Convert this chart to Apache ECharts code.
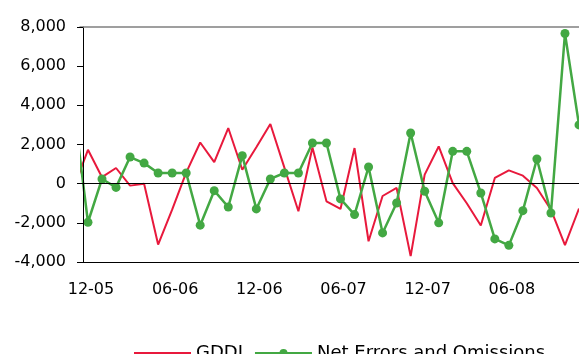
<!DOCTYPE html>
<html>
<head>
<meta charset="utf-8">
<script src="https://cdn.jsdelivr.net/npm/echarts@6/dist/echarts.min.js"></script>
<style>html,body{margin:0;padding:0;background:#fff;}#c{width:579px;height:354px;}</style>
</head>
<body>
<div id="c"></div>
<script>
// Month labels (index 0 = 11-05, partially off the left edge of the plot)
var months = ["11-05","12-05","01-06","02-06","03-06","04-06","05-06","06-06","07-06","08-06","09-06","10-06","11-06",
  "12-06","01-07","02-07","03-07","04-07","05-07","06-07","07-07","08-07","09-07","10-07","11-07",
  "12-07","01-08","02-08","03-08","04-08","05-08","06-08","07-08","08-08","09-08","10-08","11-08"];
var tickLabels = ["12-05","06-06","12-06","06-07","12-07","06-08"];
var gddi = [-200,1730,330,800,-100,0,-3110,-1330,560,2100,1100,2840,710,1860,3050,820,-1410,1850,-900,-1290,
  1820,-2940,-630,-220,-3700,460,1900,30,-1000,-2140,290,680,410,-220,-1330,-3140,-1270];
var neo = [3800,-1970,240,-190,1360,1050,545,545,545,-2120,-357,-1190,1430,-1290,240,545,545,2075,2075,-780,
  -1580,850,-2515,-985,2585,-390,-2000,1650,1650,-475,-2820,-3150,-1380,1260,-1500,7670,3000];

function pairs(arr){ return arr.map(function(v,i){ return [i,v]; }); }
var labelIdx = tickLabels.map(function(t){ return months.indexOf(t); });
var FONT = 'DejaVu Sans';

var chart = echarts.init(document.getElementById('c'), null, {renderer:'canvas'});
chart.setOption({
  animation:false,
  backgroundColor:'#fff',
  grid:{left:80, top:27, width:500.8, height:235, containLabel:false},
  legend:{
    left:128, top:339, itemWidth:57, itemHeight:10, itemGap:11,
    textStyle:{fontFamily:FONT, fontSize:18, color:'#000'},
    data:[{name:'GDDI', itemStyle:{color:'rgba(0,0,0,0)', borderWidth:0, opacity:0}},
          'Net Errors and Omissions']
  },
  graphic:[{type:'rect', shape:{x:60, y:20, width:20, height:250}, style:{fill:'#fff'}, z:5, silent:true}],
  xAxis:[{
    type:'value', min:0.432, max:36, z:10,
    axisLine:{show:true, onZero:false, lineStyle:{color:'#000', width:1}},
    axisTick:{show:false},
    splitLine:{show:false},
    axisLabel:{customValues:labelIdx, margin:20, padding:[0,0,0,6],
      fontFamily:FONT, fontSize:16, color:'#000',
      formatter:function(v){ return months[Math.round(v)] || ''; }}
  },{
    type:'value', min:0.432, max:36, position:'top', z:10,
    axisLine:{show:true, onZero:false, lineStyle:{color:'#808080', width:1.5}},
    axisTick:{show:false}, axisLabel:{show:false}, splitLine:{show:false}
  }],
  yAxis:{
    type:'value', min:-4000, max:8000, interval:2000, offset:-3, z:10,
    axisLine:{show:true, onZero:false, lineStyle:{color:'#000', width:1}},
    axisTick:{show:true, length:6, lineStyle:{color:'#000'}},
    splitLine:{show:false},
    axisLabel:{margin:17, fontFamily:FONT, fontSize:16, color:'#000',
      formatter:function(v){ return v.toLocaleString('en-US'); }}
  },
  series:[{
    name:'GDDI', type:'line', data:pairs(gddi), symbol:'none',
    lineStyle:{color:'#E8193C', width:2}, itemStyle:{color:'#E8193C'},
    markLine:{silent:true, symbol:'none', label:{show:false},
      lineStyle:{color:'#000', width:1, type:'solid'}, data:[{yAxis:0}]}
  },{
    name:'Net Errors and Omissions', type:'line', data:pairs(neo),
    symbol:'circle', symbolSize:9, showSymbol:true,
    lineStyle:{color:'#43A843', width:2.5}, itemStyle:{color:'#43A843'}
  }]
});
</script>
</body>
</html>
